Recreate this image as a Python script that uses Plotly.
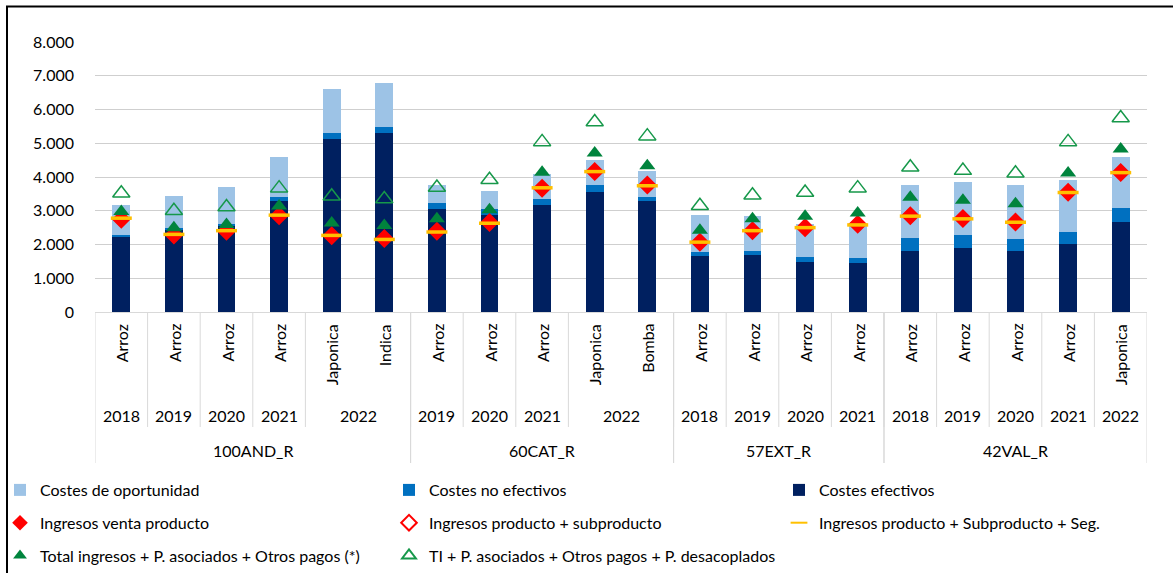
import plotly.graph_objects as go

# ---------------- data ----------------
groups = ["100AND_R"] * 6 + ["60CAT_R"] * 5 + ["57EXT_R"] * 4 + ["42VAL_R"] * 5
years = ["2018", "2019", "2020", "2021", "2022", "2022",
         "2019", "2020", "2021", "2022", "2022",
         "2018", "2019", "2020", "2021",
         "2018", "2019", "2020", "2021", "2022"]
crops = ["Arroz", "Arroz", "Arroz", "Arroz", "Japonica", "Indica",
         "Arroz", "Arroz", "Arroz", "Japonica", "Bomba",
         "Arroz", "Arroz", "Arroz", "Arroz",
         "Arroz", "Arroz", "Arroz", "Arroz", "Japonica"]

costes_efectivos = [2210, 2430, 2560, 3290, 5120, 5290, 3040, 2860, 3160, 3570, 3280,
                    1670, 1700, 1490, 1440, 1820, 1910, 1820, 2010, 2680]
costes_no_efectivos = [60, 50, 50, 130, 190, 200, 200, 200, 190, 200, 140,
                       120, 120, 130, 150, 380, 360, 350, 370, 390]
costes_oportunidad = [890, 950, 1100, 1160, 1310, 1310, 530, 530, 740, 740, 750,
                      1090, 1030, 1000, 1000, 1570, 1580, 1600, 1540, 1510]

ingresos_venta = [2750, 2280, 2390, 2850, 2260, 2180, 2390, 2650, 3670, 4160, 3760,
                  2070, 2410, 2500, 2600, 2850, 2770, 2670, 3550, 4130]
ingresos_prod_subprod = [2750, 2280, 2390, 2850, 2260, 2180, 2390, 2650, 3670, 4160, 3760,
                         2070, 2410, 2500, 2600, 2850, 2770, 2670, 3550, 4130]
ingresos_prod_subprod_seg = [2780, 2300, 2410, 2870, 2270, 2150, 2370, 2630, 3680, 4160, 3740,
                             2070, 2410, 2500, 2580, 2840, 2760, 2660, 3540, 4130]
total_ingresos = [2975, 2500, 2590, 3140, 2640, 2560, 2760, 3030, 4140, 4710, 4330,
                  2420, 2760, 2840, 2930, 3400, 3310, 3210, 4120, 4830]
ti_desacoplados = [3520, 3000, 3110, 3670, 3430, 3350, 3690, 3920, 5040, 5630, 5210,
                   3150, 3460, 3540, 3670, 4290, 4190, 4110, 5040, 5750]

y_ticks = [0, 1000, 2000, 3000, 4000, 5000, 6000, 7000, 8000]

# ---------------- figure ----------------
FONT = "Lato"
FS = 16
x = list(range(len(crops)))

fig = go.Figure()

# (name, values, colour, legend column, row in column)
bars = [
    ("Costes efectivos", costes_efectivos, "#002060", "legend3", 1),
    ("Costes no efectivos", costes_no_efectivos, "#0070C0", "legend2", 1),
    ("Costes de oportunidad", costes_oportunidad, "#9DC3E6", "legend", 1),
]
for name, vals, col, lg, rank in bars:
    fig.add_trace(go.Bar(
        x=x, y=vals, name=name, width=0.34,
        marker=dict(color=col, line=dict(width=0)),
        legend=lg, legendrank=rank, legendgroup=name,
    ))

scatters = [
    ("Ingresos venta producto", ingresos_venta,
     dict(symbol="diamond", size=13, color="#FF0000", line=dict(width=0)), "legend", 2),
    ("Ingresos producto + subproducto", ingresos_prod_subprod,
     dict(symbol="diamond-open", size=13, color="#FF0000", line=dict(width=1.5, color="#FF0000")), "legend2", 2),
    ("Ingresos producto + Subproducto + Seg.", ingresos_prod_subprod_seg,
     dict(symbol="line-ew", size=15, color="#FFC000", line=dict(width=3.5, color="#FFC000")), "legend3", 2),
    ("Total ingresos + P. asociados + Otros pagos (*)", total_ingresos,
     dict(symbol="triangle-up", size=14, color="#00843D", line=dict(width=0)), "legend", 3),
    ("TI + P. asociados + Otros pagos + P. desacoplados", ti_desacoplados,
     dict(symbol="triangle-up-open", size=15, color="#16984A", line=dict(width=1.5, color="#16984A")), "legend2", 3),
]
for name, vals, mk, lg, rank in scatters:
    fig.add_trace(go.Scatter(
        x=x, y=vals, name=name, mode="markers", marker=mk, cliponaxis=False,
        legend=lg, legendrank=rank, legendgroup=name,
    ))

# ---------------- category table below the axis ----------------
L, R, T, B = 95, 26, 42, 261
W, H = 1173, 573
pw, ph = W - L - R, H - T - B


def py(pix):  # pixel row -> paper y
    return (H - B - pix) / ph


def px(pix):  # pixel col -> paper x
    return (pix - L) / pw


LINE = "#D9D9D9"
shapes = []
annotations = []

# crop labels (rotated)
for i, c in enumerate(crops):
    annotations.append(dict(x=i, y=py(322), xref="x", yref="paper", text=c, textangle=-90,
                            showarrow=False, xanchor="center", yanchor="top",
                            font=dict(family=FONT, size=FS, color="#000")))


def runs(keys):
    out = []
    start = 0
    for i in range(1, len(keys) + 1):
        if i == len(keys) or keys[i] != keys[start]:
            out.append((start, i - 1, keys[start]))
            start = i
    return out


year_runs = runs(list(zip(groups, years)))
group_runs = runs(groups)

for s, e, key in year_runs:
    annotations.append(dict(x=(s + e) / 2, y=py(415), xref="x", yref="paper", text=key[1],
                            showarrow=False, xanchor="center", yanchor="middle",
                            font=dict(family=FONT, size=FS, color="#000")))
    if s > 0:
        shapes.append(dict(type="line", xref="x", yref="paper", x0=s - 0.5, x1=s - 0.5,
                           y0=py(312), y1=py(427), line=dict(color=LINE, width=1)))

for s, e, key in group_runs:
    annotations.append(dict(x=(s + e) / 2, y=py(450), xref="x", yref="paper", text=key,
                            showarrow=False, xanchor="center", yanchor="middle",
                            font=dict(family=FONT, size=FS, color="#000")))
    for b in (s - 0.5, e + 0.5):
        shapes.append(dict(type="line", xref="x", yref="paper", x0=b, x1=b,
                           y0=py(312), y1=py(463), line=dict(color=LINE, width=1)))

# outer chart border
shapes.append(dict(type="rect", xref="paper", yref="paper",
                   x0=px(7), x1=px(1178), y0=py(578), y1=py(6.5),
                   line=dict(color="#000000", width=2), fillcolor="rgba(0,0,0,0)", layer="above"))

leg_common = dict(orientation="v", xanchor="left", yanchor="top", y=py(473),
                  traceorder="grouped", tracegroupgap=9,
                  font=dict(family=FONT, size=FS, color="#000"),
                  bgcolor="rgba(0,0,0,0)", itemsizing="constant")

fig.update_layout(
    width=W, height=H, autosize=False,
    margin=dict(l=L, r=R, t=T, b=B, autoexpand=False),
    paper_bgcolor="white", plot_bgcolor="white",
    barmode="stack", bargap=0,
    separators=",.",
    font=dict(family=FONT, size=FS, color="#000"),
    xaxis=dict(range=[-0.5, len(crops) - 0.5], showticklabels=False, showgrid=False,
               zeroline=False, showline=True, linecolor=LINE, linewidth=1, ticks=""),
    yaxis=dict(range=[0, 8000], tickvals=y_ticks, tickformat=",d", showgrid=True,
               gridcolor="#CFCFCF", gridwidth=1, zeroline=False, showline=False,
               ticklabelstandoff=20, tickfont=dict(family=FONT, size=FS, color="#000")),
    legend=dict(leg_common, x=px(0)),
    legend2=dict(leg_common, x=px(389)),
    legend3=dict(leg_common, x=px(779)),
    shapes=shapes,
    annotations=annotations,
    showlegend=True,
)

fig.write_html("out.html", config={"displayModeBar": False},
               post_script="document.body.style.margin='0px';")
